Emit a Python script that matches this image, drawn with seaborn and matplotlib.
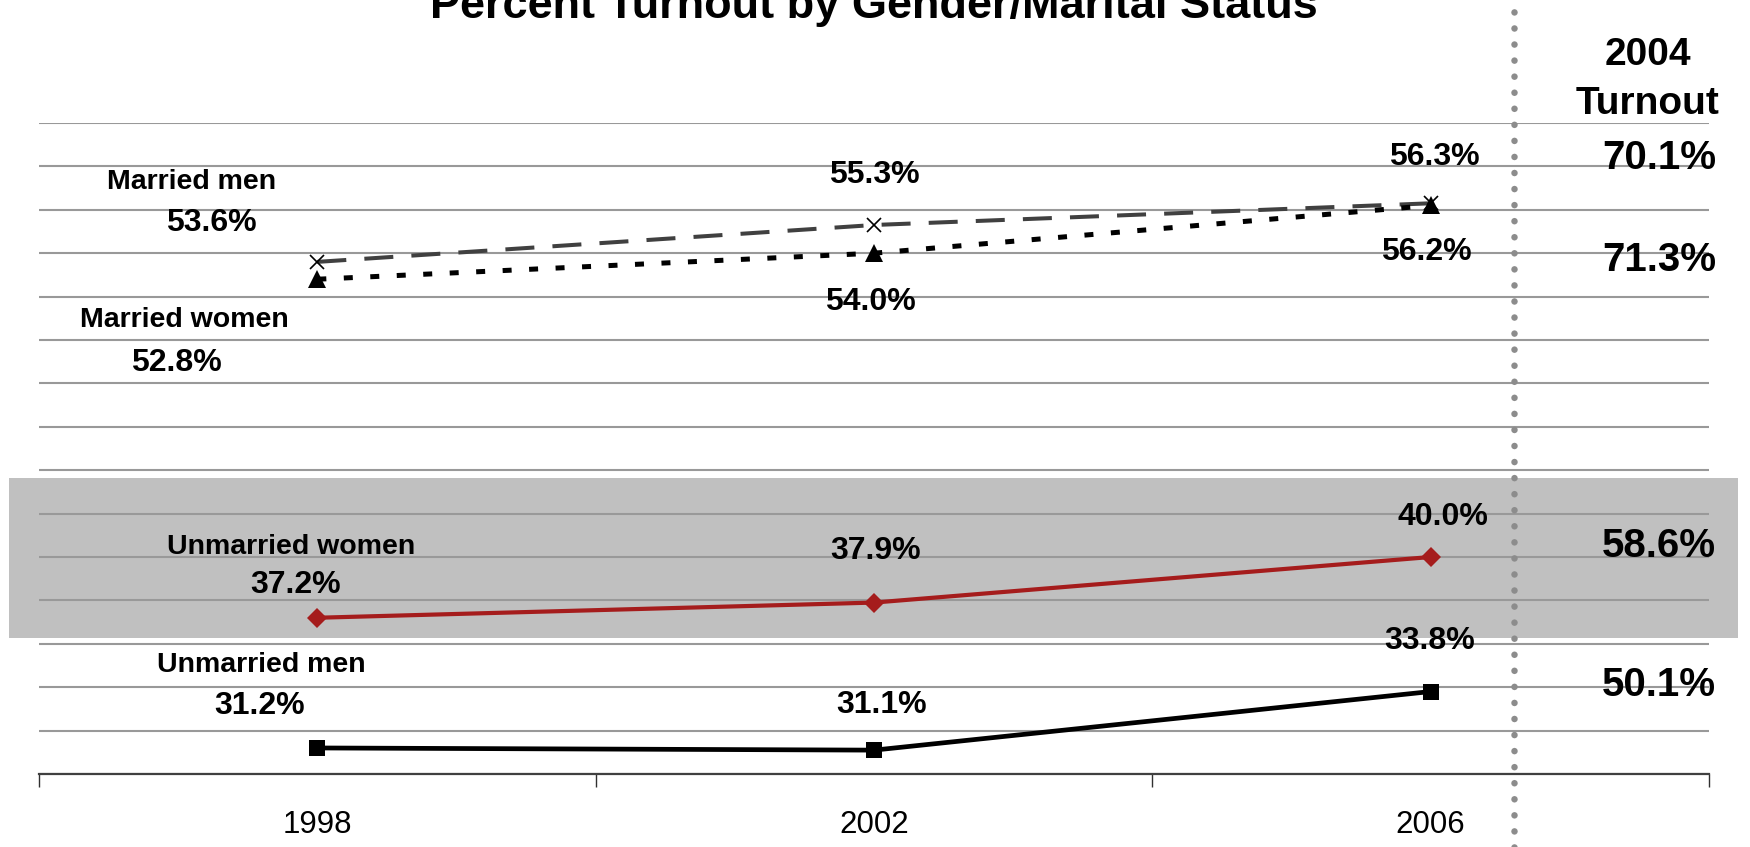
import matplotlib
matplotlib.use("Agg")
import matplotlib.pyplot as plt
import seaborn as sns
import pandas as pd

YEARS = ["1998", "2002", "2006"]
GROUPS = ["Married men", "Married women", "Unmarried women", "Unmarried men"]
married_men = [53.6, 55.3, 56.3]
married_women = [52.8, 54.0, 56.2]
unmarried_women = [37.2, 37.9, 40.0]
unmarried_men = [31.2, 31.1, 33.8]
turnout_2004 = [70.1, 71.3, 58.6, 50.1]

series = [married_men, married_women, unmarried_women, unmarried_men]
df = pd.DataFrame({
    "year": YEARS * len(GROUPS),
    "group": [g for g in GROUPS for _ in YEARS],
    "turnout": married_men + married_women + unmarried_women + unmarried_men,
})

# line styles per group
styles = {
    "Married men": dict(color="#404040", lw=2.9, linestyle=(0, (7.2, 4.5)),
                        marker="x", ms=10, mew=1.2, mec="black", mfc="black"),
    "Married women": dict(color="black", lw=3.6, linestyle=(0, (1.8, 3.5)),
                          marker="^", ms=13, mew=0, mec="black", mfc="black"),
    "Unmarried women": dict(color="#A51C1C", lw=3.0, linestyle="-",
                            marker="D", ms=10, mew=0, mec="#A51C1C", mfc="#A51C1C"),
    "Unmarried men": dict(color="black", lw=3.4, linestyle="-",
                          marker="s", ms=12, mew=0, mec="black", mfc="black"),
}

# label offsets (pixels) from each data point
value_offsets = [
    [(-106, 39), (0, 50), (4, 46)],
    [(-141, -84), (-4, -49), (-4, -47)],
    [(-22, 33), (2, 52), (12, 40)],
    [(-58, 42), (8, 45), (-1, 51)],
]
name_offsets = [(-126, 80), (-133, -41), (-26, 71), (-56, 83)]
turnout_label_y = [58.4, 53.7, 40.5, 34.1]

sns.set_style("white")
plt.rcParams["font.family"] = ["Liberation Sans", "DejaVu Sans"]
plt.rcParams["text.color"] = "black"
plt.rcParams["xtick.color"] = "black"

fig = plt.figure(figsize=(17.5, 8.47), dpi=100)
ax = fig.add_axes([39 / 1750, 1 - 774 / 847, 1670 / 1750, 651 / 847])

ax.axhspan(36.27, 43.64, xmin=-0.018, xmax=1.0174, color="#C0C0C0",
           zorder=0.2, clip_on=False, lw=0)

for g in GROUPS:
    sns.lineplot(data=df[df.group == g], x="year", y="turnout", ax=ax,
                 legend=False, errorbar=None, zorder=3, **styles[g])

ax.set_xlim(-0.5, 2.5)
ax.set_ylim(30, 60)
ax.set_yticks(range(30, 61, 2))
ax.yaxis.grid(True, color="#999999", lw=1.5)
ax.set_axisbelow(True)
ax.tick_params(axis="y", length=0, labelleft=False)

ax.set_xticks(range(len(YEARS)))
ax.set_xticklabels(YEARS, fontsize=22.5)
ax.set_xticks([-0.5, 0.5, 1.5, 2.5], minor=True)
ax.tick_params(axis="x", which="major", length=0, pad=26)
ax.tick_params(axis="x", which="minor", bottom=True, length=9.5, width=1.0,
               color="#303030", direction="out")
ax.set_xlabel("")
ax.set_ylabel("")
for s in ["top", "left", "right"]:
    ax.spines[s].set_visible(False)
ax.spines["bottom"].set_color("#404040")
ax.spines["bottom"].set_linewidth(1.6)
ax.spines["bottom"].set_zorder(2.5)

for gi, vals in enumerate(series):
    for xi, v in enumerate(vals):
        dx, dy = value_offsets[gi][xi]
        ax.annotate(f"{v:.1f}%", (xi, v), xytext=(dx, dy),
                    textcoords="offset pixels", ha="center", va="center",
                    fontsize=23, fontweight="bold", zorder=4)
    dx, dy = name_offsets[gi]
    ax.annotate(GROUPS[gi], (0, vals[0]), xytext=(dx, dy),
                textcoords="offset pixels", ha="center", va="center",
                fontsize=20.5, fontweight="bold", zorder=4)

# 2004 turnout column
ax.axvline(2.15, ymin=-0.112, ymax=1.19, clip_on=False, color="#8c8c8c",
           lw=4.7, linestyle=(0, (0.01, 2.45)), dash_capstyle="round", zorder=2)
ax.text(2.39, 62.0, "2004\nTurnout", ha="center", va="center", fontsize=28,
        fontweight="bold", linespacing=1.45)
for v, y in zip(turnout_2004, turnout_label_y):
    ax.text(2.41, y, f"{v:.1f}%", ha="center", va="center", fontsize=29,
            fontweight="bold")

fig.text(874 / 1750, 1 - 18 / 847, "Percent Turnout by Gender/Marital Status",
         ha="center", va="baseline", fontsize=32.5, fontweight="bold")

fig.savefig("out.png", dpi=100)
